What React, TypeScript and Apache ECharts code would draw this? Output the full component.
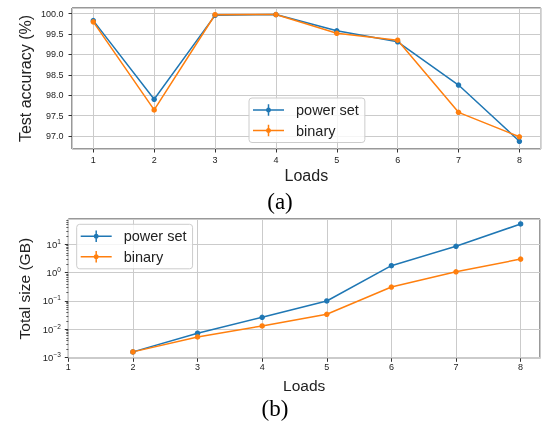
import React, { useEffect, useRef } from "react";
import * as echarts from "echarts";

const loads = [1, 2, 3, 4, 5, 6, 7, 8];
const accPowerSet = [99.83, 97.9, 99.96, 99.98, 99.58, 99.31, 98.25, 96.87];
const accBinary = [99.8, 97.64, 99.975, 99.98, 99.52, 99.35, 97.58, 96.98];

const sizeLoads = [2, 3, 4, 5, 6, 7, 8];
const sizePowerSet = [0.0016, 0.0073, 0.0266, 0.1, 1.76, 8.5, 52];
const sizeBinary = [0.0016, 0.0054, 0.0132, 0.034, 0.31, 1.07, 3.0];

const seriesNames = ["power set", "binary"];
const panelLabels = ["(a)", "(b)"];

// log-axis minor tick positions (2..9 x 10^n)
const minorDecades = [-3, -2, -1, 0, 1];
const minorMultipliers = [2, 3, 4, 5, 6, 7, 8, 9];

const BLUE = "#1f77b4";
const ORANGE = "#ff7f0e";
const SANS = "'Liberation Sans', Arial, Helvetica, sans-serif";
const SERIF = "'Liberation Serif', 'Times New Roman', serif";

const supMap: Record<string, string> = { "-": "\u2212" };

const legendIcon =
  "path://M0,5 L31,5 L31,6.5 L0,6.5 Z M14.75,0 L16.25,0 L16.25,11.5 L14.75,11.5 Z M15.5,3.25 A2.5,2.5 0 1 1 15.49,3.25 Z";

function pairs(xs: number[], ys: number[]) {
  return xs.map((x, i) => [x, ys[i]]);
}

export default function App() {
  const ref = useRef<HTMLDivElement>(null);

  useEffect(() => {
    if (!ref.current) return;
    const chart = echarts.init(ref.current, undefined, { renderer: "svg" });

    const tickLabel = { fontSize: 9, color: "#222", fontFamily: SANS };
    const splitLine = { show: true, lineStyle: { color: "#cbcbcb", width: 1 } };
    const axisTick = { show: true, length: 3.5, lineStyle: { color: "#333" } };
    const nameStyle = { fontSize: 16, color: "#222", fontFamily: SANS };

    const minorValues: number[] = [];
    minorDecades.forEach((d) =>
      minorMultipliers.forEach((m) => {
        const v = m * Math.pow(10, d);
        if (v > 0.00095 && v < 78) minorValues.push(v);
      })
    );

    const legendCommon = {
      orient: "vertical",
      padding: [4, 6, 4, 4],
      itemGap: 4.5,
      itemWidth: 31,
      itemHeight: 11.5,
      icon: legendIcon,
      backgroundColor: "rgba(255,255,255,0.8)",
      borderColor: "#cccccc",
      borderWidth: 1,
      borderRadius: 3,
      selectedMode: false,
      textStyle: {
        fontSize: 14.5,
        lineHeight: 16,
        color: "#222",
        fontFamily: SANS,
        padding: [0, 0, 0, 7],
      },
      data: seriesNames,
    };

    const lineCommon = {
      type: "line",
      symbol: "circle",
      symbolSize: 5.5,
      lineStyle: { width: 1.5 },
      emphasis: { disabled: true },
    };

    const intFmt = (v: number) =>
      Math.abs(v - Math.round(v)) < 1e-6 ? String(Math.round(v)) : "";

    chart.setOption({
      animation: false,
      color: [BLUE, ORANGE],
      grid: [
        {
          left: 72,
          top: 8,
          width: 468.7,
          height: 141,
          show: true,
          borderColor: "#333",
          borderWidth: 1,
          backgroundColor: "transparent",
        },
        {
          left: 68.3,
          top: 219,
          width: 471.7,
          height: 139.3,
          show: true,
          borderColor: "#333",
          borderWidth: 1,
          backgroundColor: "transparent",
        },
      ],
      xAxis: [
        {
          gridIndex: 0,
          type: "value",
          min: 0.65,
          max: 8.35,
          splitNumber: 8,
          name: "Loads",
          nameLocation: "middle",
          nameGap: 18,
          nameTextStyle: nameStyle,
          axisLine: { show: false },
          axisTick,
          splitLine,
          axisLabel: {
            ...tickLabel,
            margin: 6,
            showMinLabel: false,
            showMaxLabel: false,
            formatter: intFmt,
          },
        },
        {
          gridIndex: 1,
          type: "value",
          min: 1,
          max: 8.3,
          interval: 1,
          name: "Loads",
          nameLocation: "middle",
          nameGap: 19,
          nameTextStyle: { ...nameStyle, fontSize: 15.5 },
          axisLine: { show: false },
          axisTick,
          splitLine,
          axisLabel: {
            ...tickLabel,
            margin: 4.5,
            showMaxLabel: false,
            formatter: intFmt,
          },
        },
      ],
      yAxis: [
        {
          gridIndex: 0,
          type: "value",
          min: 96.68,
          max: 100.14,
          splitNumber: 7,
          name: "Test accuracy (%)",
          nameLocation: "middle",
          nameGap: 39,
          nameMoveOverlap: false,
          nameTextStyle: nameStyle,
          axisLine: { show: false },
          axisTick,
          splitLine,
          axisLabel: {
            ...tickLabel,
            margin: 8.5,
            showMinLabel: false,
            showMaxLabel: false,
            formatter: (v: number) =>
              Math.abs(v * 2 - Math.round(v * 2)) < 1e-6 ? v.toFixed(1) : "",
          },
        },
        {
          gridIndex: 1,
          type: "log",
          logBase: 10,
          min: 0.00095,
          max: 78,
          name: "Total size (GB)",
          nameLocation: "middle",
          nameGap: 35.5,
          nameMoveOverlap: false,
          nameTextStyle: { ...nameStyle, fontSize: 15.5 },
          axisLine: { show: false },
          axisTick,
          splitLine,
          axisLabel: {
            ...tickLabel,
            margin: 7.5,
            showMinLabel: false,
            showMaxLabel: false,
            formatter: (v: number) => {
              const e = Math.log10(v);
              if (Math.abs(e - Math.round(e)) > 1e-6) return "";
              const exp = String(Math.round(e))
                .split("")
                .map((c) => supMap[c] || c)
                .join("");
              return `{b|10}{e|${exp}}`;
            },
            rich: {
              b: { fontSize: 9.5, color: "#222", fontFamily: SANS, lineHeight: 13 },
              e: {
                fontSize: 6.5,
                color: "#222",
                fontFamily: SANS,
                lineHeight: 8,
                verticalAlign: "top",
              },
            },
          },
        },
        {
          gridIndex: 1,
          type: "log",
          logBase: 10,
          position: "left",
          min: 0.00095,
          max: 78,
          axisLine: { show: false },
          axisLabel: { show: false },
          splitLine: { show: false },
          axisTick: {
            show: true,
            length: 2,
            customValues: minorValues,
            lineStyle: { color: "#333", width: 0.8 },
          },
        },
      ],
      legend: [
        { ...legendCommon, left: 249, top: 98 },
        { ...legendCommon, left: 76.7, top: 224.3 },
      ],
      series: [
        { ...lineCommon, name: seriesNames[0], xAxisIndex: 0, yAxisIndex: 0, data: pairs(loads, accPowerSet) },
        { ...lineCommon, name: seriesNames[1], xAxisIndex: 0, yAxisIndex: 0, data: pairs(loads, accBinary) },
        { ...lineCommon, name: seriesNames[0], xAxisIndex: 1, yAxisIndex: 1, data: pairs(sizeLoads, sizePowerSet) },
        { ...lineCommon, name: seriesNames[1], xAxisIndex: 1, yAxisIndex: 1, data: pairs(sizeLoads, sizeBinary) },
      ],
      graphic: [
        {
          type: "text",
          x: 280,
          y: 201.7,
          style: {
            text: panelLabels[0],
            font: `23px ${SERIF}`,
            fill: "#000",
            textAlign: "center",
            textVerticalAlign: "middle",
          },
        },
        {
          type: "text",
          x: 275,
          y: 408,
          style: {
            text: panelLabels[1],
            font: `23px ${SERIF}`,
            fill: "#000",
            textAlign: "center",
            textVerticalAlign: "middle",
          },
        },
      ],
    });

    return () => chart.dispose();
  }, []);

  return (
    <div
      ref={ref}
      style={{ position: "fixed", left: 0, top: 0, width: 542, height: 422 }}
    />
  );
}
